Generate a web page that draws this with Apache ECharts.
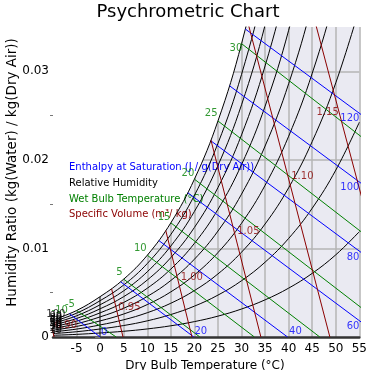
<!DOCTYPE html>
<html><head><meta charset="utf-8">
<script src="https://cdn.jsdelivr.net/npm/echarts@6/dist/echarts.min.js"></script>
<style>html,body{margin:0;padding:0;background:#fff}#c{width:370px;height:370px}</style>
</head><body><div id="c"></div>
<script>
// Dry bulb temperatures (°C) at which the relative humidity curves are tabulated
const temps = [-10, -5, 0, 5, 10, 15, 20, 25, 30, 35, 40, 45, 50, 55];
// Humidity ratio (kg/kg) of each relative-humidity curve at the temperatures above
const rh100 = [0.0019305, 0.0029888, 0.0045590, 0.0065293, 0.0092296, 0.0128919, 0.0178172, 0.0243925, 0.0331204, 0.0446720, 0.0599502];
const rh90 = [0.0017369, 0.0026886, 0.0041000, 0.0058702, 0.0082943, 0.0115787, 0.0159897, 0.0218675, 0.0296505, 0.0399184, 0.0534402];
const rh80 = [0.0015434, 0.0023887, 0.0036418, 0.0052124, 0.0073618, 0.0102709, 0.0141725, 0.0193621, 0.0262172, 0.0352317, 0.0470526];
const rh70 = [0.0013501, 0.0020892, 0.0031843, 0.0045562, 0.0064320, 0.0089685, 0.0123658, 0.0168762, 0.0228198, 0.0306111, 0.0407858, 0.0540533];
const rh60 = [0.0011568, 0.0017898, 0.0027274, 0.0039011, 0.0055051, 0.0076715, 0.0105692, 0.0144095, 0.0194578, 0.0260549, 0.0346349, 0.0457632, 0.0601839];
const rh50 = [0.0009638, 0.0014909, 0.0022712, 0.0032476, 0.0045808, 0.0063798, 0.0087828, 0.0119617, 0.0161308, 0.0215619, 0.0285970, 0.0376741, 0.0493569];
const rh40 = [0.0007708, 0.0011921, 0.0018156, 0.0025954, 0.0036592, 0.0050934, 0.0070064, 0.0095327, 0.0128380, 0.0171308, 0.0226691, 0.0297785, 0.0388689, 0.0504707];
const rh30 = [0.0005779, 0.0008937, 0.0013607, 0.0019445, 0.0027404, 0.0038122, 0.0052401, 0.0071222, 0.0095791, 0.0127602, 0.0168483, 0.0220698, 0.0287033, 0.0371004];
const rh20 = [0.0003851, 0.0005955, 0.0009065, 0.0012950, 0.0018243, 0.0025363, 0.0034836, 0.0047301, 0.0063534, 0.0084490, 0.0111317, 0.0145412, 0.0188456, 0.0242514];
const rh10 = [0.0001925, 0.0002976, 0.0004529, 0.0006468, 0.0009108, 0.0012656, 0.0017369, 0.0023561, 0.0031606, 0.0041960, 0.0055165, 0.0071866, 0.0092822, 0.0118939];
const rhLabels = ['10', '20', '30', '40', '50', '60', '70', '80', '90', '100'];

// Enthalpy lines: value, saturation point, dry-air end point (w = 0)
const enthalpyValues = ['0', '20', '40', '60', '80', '100', '120'];
const enthalpySatT = [-6.5, 4.33, 12.45, 18.61, 23.47, 27.46, 30.81];
const enthalpySatW = [0.00262, 0.00624, 0.01089, 0.01628, 0.02216, 0.02836, 0.03477];
const enthalpyZeroT = [0, 19.88, 39.76, 59.64, 79.52, 99.40, 119.28];
const enthalpyLabelT = [0.84, 21.35, 41.44, 55, 55, 55, 55];
const enthalpyLabelW = [0.00056, 0.00068, 0.00068, 0.00124, 0.00897, 0.01692, 0.02464];

// Wet bulb lines
const wetBulbValues = ['-5', '5', '10', '15', '20', '25', '30'];
const wetBulbSatT = [-5, 5, 10, 15, 20, 25, 30];
const wetBulbSatW = [0.00299, 0.00653, 0.00923, 0.01289, 0.01782, 0.02439, 0.03312];
const wetBulbZeroT = [3.41, 21.16, 32.73, 46.60, 63.47, 84.23, 110.04];
const wetBulbLabelT = [-6.4, 4.10, 8.52, 13.57, 18.62, 23.56, 28.82];
const wetBulbLabelW = [0.00363, 0.00727, 0.00998, 0.01353, 0.01844, 0.02521, 0.03259];
// extra wet bulb label in the cold corner
const coldWetBulbLabel = ['-10'];
const coldWetBulbLabelT = [-8.56];
const coldWetBulbLabelW = [0.00304];

// Specific volume lines
const volumeValues = ['0.90', '0.95', '1.00', '1.05', '1.10', '1.15'];
const volumeSatT = [-10.55, 2.44, 13.93, 23.52, 31.25, 37.52];
const volumeSatW = [0.00182, 0.00543, 0.01202, 0.02222, 0.0357, 0.05176];
const volumeZeroT = [-9.78, 4.85, 19.48, 34.11, 48.74, 63.37];
const volumeLabelT = [-7.26, 6.21, 19.46, 31.45, 42.91, 48.28];
const volumeLabelW = [0.00135, 0.00338, 0.00671, 0.01195, 0.01816, 0.02532];

const FONT = '"DejaVu Sans", sans-serif';
const BLUE = '#0000ff', GREEN = '#008000', RED = '#8b0000', BLACK = '#000000';

const rhCurves = [rh10, rh20, rh30, rh40, rh50, rh60, rh70, rh80, rh90, rh100];
const series = [];

// white area above the saturation curve
series.push({
  type: 'line', silent: true, animation: false, showSymbol: false, symbol: 'none',
  smooth: 0.4, z: 1, data: rh100.map((w, k) => [temps[k], w]),
  lineStyle: { width: 0, opacity: 0 },
  areaStyle: { color: '#ffffff', opacity: 1, origin: 'end' }
});
rhCurves.forEach((arr) => {
  series.push({
    type: 'line', silent: true, animation: false, showSymbol: false, symbol: 'none',
    smooth: 0.4, z: 4,
    data: arr.map((w, k) => [temps[k], w]),
    lineStyle: { color: BLACK, width: 1 }
  });
});

function straight(satT, satW, zeroT, color) {
  satT.forEach((t, i) => {
    series.push({
      type: 'line', silent: true, animation: false, showSymbol: false, symbol: 'none', z: 4,
      data: [[t, satW[i]], [zeroT[i], 0]],
      lineStyle: { color: color, width: 1 }
    });
  });
}
straight(enthalpySatT, enthalpySatW, enthalpyZeroT, BLUE);
straight(wetBulbSatT, wetBulbSatW, wetBulbZeroT, GREEN);
straight(volumeSatT, volumeSatW, volumeZeroT, RED);

function labels(ts, ws, texts, color, alignFn, vAlign) {
  series.push({
    type: 'scatter', silent: true, animation: false, symbolSize: 0, z: 5, clip: false,
    data: ts.map((t, i) => ({
      value: [t, ws[i]],
      label: { formatter: texts[i], align: alignFn ? alignFn(i) : 'center' }
    })),
    label: { show: true, position: 'inside', color: color, fontSize: 10, fontFamily: FONT,
      verticalAlign: vAlign || 'middle' }
  });
}
labels(enthalpyLabelT, enthalpyLabelW, enthalpyValues, BLUE, i => (enthalpyLabelT[i] >= 55 ? 'right' : 'center'));
labels(wetBulbLabelT, wetBulbLabelW, wetBulbValues, GREEN);
labels(coldWetBulbLabelT, coldWetBulbLabelW, coldWetBulbLabel, GREEN);
labels(volumeLabelT, volumeLabelW, volumeValues, RED);
// relative humidity labels (clustered at the cold end of each curve)
labels(rhCurves.map(() => -9.4), rhCurves.map(a => a[0]), rhLabels, BLACK, () => 'center', 'bottom');

const chart = echarts.init(document.getElementById('c'), null, { renderer: 'canvas' });
chart.setOption({
  animation: false,
  backgroundColor: '#ffffff',
  grid: { left: 53, right: 8, top: 27, bottom: 33, show: true, backgroundColor: '#eaeaf2', borderWidth: 0 },
  xAxis: {
    type: 'value', min: -10, max: 55, interval: 5,
    axisLine: { show: true, onZero: false, lineStyle: { color: '#333', width: 2.5 } },
    axisTick: { show: false },
    axisLabel: { showMinLabel: false, color: '#000', fontSize: 12, fontFamily: FONT, margin: 6 },
    splitLine: { show: true, showMinLine: false, lineStyle: { color: '#b4b4b4', width: 1.5 } }
  },
  yAxis: [{
    type: 'value', min: 0, max: 0.035, interval: 0.01,
    axisLine: { show: true, lineStyle: { color: '#777', width: 2 } },
    axisTick: { show: true, length: 5, lineStyle: { color: '#777' } },
    axisLabel: { showMaxLabel: false, color: '#000', fontSize: 12, fontFamily: FONT, margin: 4,
      formatter: v => (v === 0 ? '0' : v.toFixed(2)) },
    splitLine: { show: true, showMinLine: false, showMaxLine: false, lineStyle: { color: '#b4b4b4', width: 1.5 } }
  }, {
    type: 'value', min: 0, max: 0.035, interval: 0.005, position: 'left',
    axisLine: { show: false },
    axisTick: { show: true, length: 3, customValues: [0.005, 0.015, 0.025], lineStyle: { color: '#777' } },
    axisLabel: { show: false },
    splitLine: { show: false }
  }],
  graphic: [
    { type: 'rect', z: 3, shape: { x: 54, y: 22, width: 186, height: 6.5 }, style: { fill: '#ffffff' }, silent: true },
    { type: 'text', x: 188, y: 12, z: 10,
      style: { text: 'Psychrometric Chart', fill: '#000', font: '18px ' + FONT,
        align: 'center', verticalAlign: 'middle', textAlign: 'center', textVerticalAlign: 'middle' } },
    { type: 'text', x: 12, y: 172.5, rotation: Math.PI / 2, z: 10,
      style: { text: 'Humidity Ratio (kg(Water) / kg(Dry Air))', fill: '#000', font: '13.5px ' + FONT,
        align: 'center', verticalAlign: 'middle', textAlign: 'center', textVerticalAlign: 'middle' } },
    { type: 'text', x: 205, y: 366, z: 10,
      style: { text: 'Dry Bulb Temperature (°C)', fill: '#000', font: '12px ' + FONT,
        align: 'center', verticalAlign: 'middle', textAlign: 'center', textVerticalAlign: 'middle' } },
    { type: 'text', x: 69, y: 167, z: 3,
      style: { text: 'Enthalpy at Saturation (J / g(Dry Air))', fill: BLUE, font: '10px ' + FONT,
        verticalAlign: 'middle', textVerticalAlign: 'middle' } },
    { type: 'text', x: 69, y: 183, z: 3,
      style: { text: 'Relative Humidity', fill: BLACK, font: '10px ' + FONT,
        verticalAlign: 'middle', textVerticalAlign: 'middle' } },
    { type: 'text', x: 69, y: 199, z: 3,
      style: { text: 'Wet Bulb Temperature (°C)', fill: GREEN, font: '10px ' + FONT,
        verticalAlign: 'middle', textVerticalAlign: 'middle' } },
    { type: 'text', x: 69, y: 214, z: 3,
      style: { text: 'Specific Volume (m³/ kg)', fill: RED, font: '10px ' + FONT,
        verticalAlign: 'middle', textVerticalAlign: 'middle' } }
  ],
  series: series
});
</script></body></html>
